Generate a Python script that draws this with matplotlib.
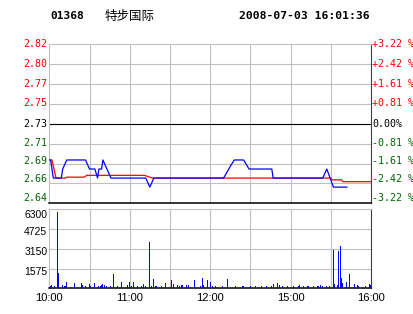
import matplotlib.pyplot as plt
import matplotlib.transforms as mtransforms
import numpy as np

# header
stock_code = "01368"
stock_name = "特步国际"
stamp = "2008-07-03 16:01:36"
prev_close = 2.73
pct_limit = 3.22

# trading minutes from 10:00 (lunch break removed), last price
price_t = [0, 1, 2, 3, 9, 10, 13, 27, 30, 34, 36, 37, 39, 40, 43, 46, 72, 75, 78,
           130, 132, 135, 138, 145, 149, 166, 167, 204, 207, 212, 222]
price = [2.69, 2.69, 2.68, 2.67, 2.67, 2.68, 2.69, 2.69, 2.68, 2.68, 2.67, 2.68, 2.68, 2.69, 2.68, 2.67,
         2.67, 2.66, 2.67, 2.67, 2.675, 2.683, 2.69, 2.69, 2.68, 2.68, 2.67, 2.67, 2.68, 2.66, 2.66]

# average price
avg_t = [0, 2, 5, 12, 13, 26, 28, 71, 77, 210, 211, 218, 219, 240]
avg = [2.69, 2.69, 2.670, 2.670, 2.671, 2.671, 2.673, 2.673, 2.670, 2.670, 2.668, 2.668, 2.666, 2.666]

# volume per minute
vol_t = [1, 2, 4, 6, 7, 10, 11, 12, 13, 19, 24, 25, 27, 30, 31, 34, 37, 38, 39, 40, 41, 43, 46, 48,
         51, 54, 58, 60, 61, 63, 66, 69, 70, 72, 75, 76, 78, 79, 80, 84, 87, 91, 93, 96, 97, 99,
         102, 104, 108, 113, 114, 115, 118, 120, 122, 124, 129, 133, 139, 144, 145, 150, 154, 158,
         162, 166, 167, 170, 172, 174, 178, 182, 186, 187, 190, 193, 197, 200, 201, 202, 204, 207,
         209, 212, 213, 215, 216, 217, 218, 219, 222, 224, 228, 230, 231, 236, 239, 240]
vol = [210, 270, 190, 6120, 1200, 270, 190, 190, 500, 425, 425, 270, 210, 350, 210, 425, 190, 190, 270,
       350, 270, 210, 190, 1150, 190, 500, 270, 500, 190, 500, 190, 190, 350, 190, 3700, 190, 750, 190,
       190, 190, 425, 665, 350, 270, 190, 270, 270, 270, 665, 190, 825, 270, 665, 500, 190, 190, 190,
       745, 190, 190, 190, 190, 190, 190, 190, 190, 350, 425, 270, 190, 190, 190, 190, 270, 190, 190,
       190, 190, 190, 270, 190, 190, 190, 3060, 350, 270, 2980, 3380, 825, 425, 500, 1150, 350, 270,
       190, 190, 350, 270]

price_labels = ["2.82", "2.80", "2.77", "2.75", "2.73", "2.71", "2.69", "2.66", "2.64"]
pct_labels = ["+3.22 %", "+2.42 %", "+1.61 %", "+0.81 %", "0.00%",
              "-0.81 %", "-1.61 %", "-2.42 %", "-3.22 %"]
vol_max = 6300
vol_labels = ["6300", "4725", "3150", "1575"]
time_ticks = [0, 60, 120, 180, 240]
time_labels = ["10:00", "11:00", "12:00", "15:00", "16:00"]

GRID = "#C0C0C0"
RED = "#FF0000"
GREEN = "#006600"
BLUE = "#0000FF"
MONO = "DejaVu Sans Mono"

W, H = 414, 314
fig = plt.figure(figsize=(W / 100, H / 100), dpi=100)
left, right = 49.3, 371.0
ax1 = fig.add_axes([left / W, 1 - 203.3 / H, (right - left) / W, 159 / H])
ax2 = fig.add_axes([left / W, 1 - 288.3 / H, (right - left) / W, 79 / H])

lo = prev_close * (1 - pct_limit / 100)
hi = prev_close * (1 + pct_limit / 100)
levels = np.linspace(hi, lo, 9)

for ax in (ax1, ax2):
    ax.set_xlim(0, 240)
    ax.set_xticks([])
    ax.set_yticks([])
    for m in range(30, 240, 30):
        ax.axvline(m, color=GRID, lw=0.8, zorder=0)
    ax.spines["left"].set_color(GRID)
    ax.spines["top"].set_color(GRID)
    ax.spines["right"].set_color("#404040")
    ax.spines["bottom"].set_color("black")
    ax.spines["bottom"].set_linewidth(1.1)
    for s in ("left", "top", "right"):
        ax.spines[s].set_linewidth(0.8)

# price panel
ax1.set_ylim(lo, hi)
for i, lv in enumerate(levels[1:-1], start=1):
    ax1.axhline(lv, color="black" if i == 4 else GRID, lw=0.8, zorder=0)
ax1.plot(price_t, price, color=BLUE, lw=0.9, zorder=3)
ax1.plot(avg_t, avg, color=RED, lw=0.9, zorder=2)

lift = [0, 0, 0, 1, 0, 1, 3, 4, 5]
ytrans = ax1.get_yaxis_transform()
for i, lv in enumerate(levels):
    col = RED if i < 4 else ("black" if i == 4 else GREEN)
    tl = mtransforms.offset_copy(ytrans, fig=fig, x=-2, y=lift[i], units="dots")
    ax1.text(0, lv, price_labels[i], transform=tl, ha="right", va="center",
             color=col, fontsize=7.2, family=MONO)
    tr = mtransforms.offset_copy(ytrans, fig=fig, x=1, y=lift[i], units="dots")
    ax1.text(1, lv, pct_labels[i], transform=tr, ha="left", va="center",
             color=col, fontsize=7.2, family=MONO)

# volume panel
ax2.set_ylim(0, vol_max)
vlevels = np.linspace(vol_max, 0, 5)
for lv in vlevels[1:-1]:
    ax2.axhline(lv, color=GRID, lw=0.8, zorder=0)
ax2.bar(vol_t, vol, width=0.75, color=BLUE, linewidth=0, antialiased=False, zorder=3)

vtrans = ax2.get_yaxis_transform()
for i, lab in enumerate(vol_labels):
    tv = mtransforms.offset_copy(vtrans, fig=fig, x=-2, y=-6 if i == 0 else -3, units="dots")
    ax2.text(0, vlevels[i], lab, transform=tv, ha="right", va="center",
             color="black", fontsize=7.5, family="Liberation Sans")

xtrans = ax2.get_xaxis_transform()
for m, lab in zip(time_ticks, time_labels):
    tx = mtransforms.offset_copy(xtrans, fig=fig, x=0, y=-10, units="dots")
    ax2.text(m, 0, lab, transform=tx, ha="center", va="center",
             color="black", fontsize=8, family="Liberation Sans")

# header
ty = 1 - 16 / H
fig.text(50 / W, ty, stock_code, family=MONO, fontweight="bold", fontsize=8.1, va="center")
fig.text(105 / W, ty, stock_name, family=["Noto Sans CJK SC", "DejaVu Sans"], fontsize=9, va="center")
fig.text(370 / W, ty, stamp, family=MONO, fontweight="bold", fontsize=8.2, va="center", ha="right")

fig.savefig("out.png", dpi=100, facecolor="white")
